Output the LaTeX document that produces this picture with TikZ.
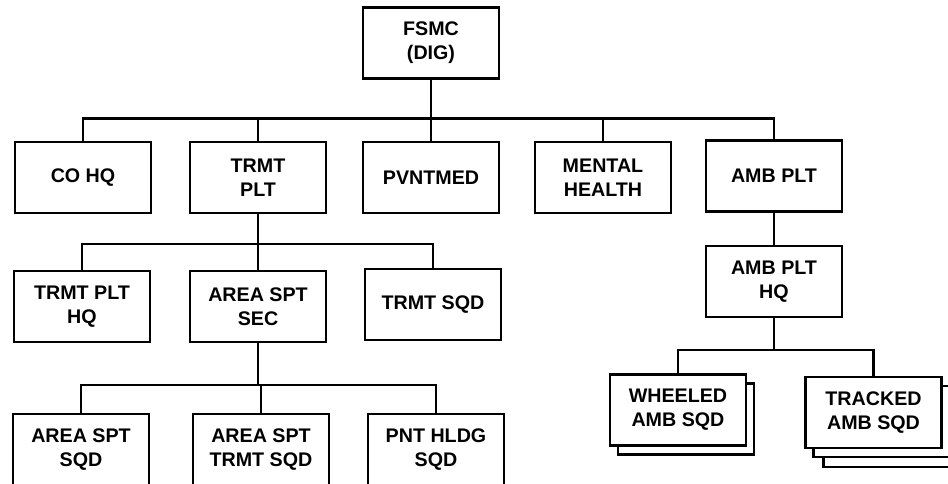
\documentclass[tikz,border=0pt]{standalone}
\usepackage{fontspec}
\setmainfont{Liberation Sans}
\usepackage{tikz}
\usetikzlibrary{positioning}

\begin{document}
\begin{tikzpicture}[
  x=0.02cm,y=-0.02cm,
  unit/.style={draw,line width=1.3pt,fill=white,minimum width=2.72cm,minimum height=1.42cm,inner sep=0pt,align=center,font=\bfseries\fontsize{11.2}{13.5}\selectfont},
  card/.style={unit,font=\small},
  link/.style={line width=1.3pt}
]
  \clip (0,0) rectangle (948,484);
  % ---------------- TOP ----------------
  \node[unit] (fsmc) at (431,43) {FSMC\\(DIG)};
  % ---------------- LEVEL 2 ----------------
  \node[unit] (cohq) at (83,177.5) {CO HQ};
  \node[unit] (trmtplt) at (258,177.5) {TRMT\\PLT};
  \node[unit] (pvntmed) at (431,177.5) {PVNTMED};
  \node[unit] (mental) at (603,177.5) {MENTAL\\HEALTH};
  \node[unit] (ambplt) at (774,176) {AMB PLT};
  \foreach \n in {cohq,trmtplt,pvntmed,mental,ambplt}{
    \draw[link] (fsmc.south) -- ++(0,39) -| (\n.north);}
  % ---------------- TRMT PLT ----------------
  \node[unit] (trmthq) at (82,306.5) {TRMT PLT\\HQ};
  \node[unit] (areasec) at (258,306.5) {AREA SPT\\SEC};
  \node[unit] (trmtsqd) at (433,304.5) {TRMT SQD};
  \foreach \n in {trmthq,areasec,trmtsqd}{
    \draw[link] (trmtplt.south) -- ++(0,30) -| (\n.north);}
  % ---------------- AREA SPT SEC ----------------
  \node[unit] (areasqd) at (81,449.5) {AREA SPT\\SQD};
  \node[unit] (areatrmt) at (261,449.5) {AREA SPT\\TRMT SQD};
  \node[unit] (pnthldg) at (436,449.5) {PNT HLDG\\SQD};
  \foreach \n in {areasqd,areatrmt,pnthldg}{
    \draw[link] (areasec.south) -- ++(0,42) -| (\n.north);}
  % ---------------- AMB PLT ----------------
  \node[unit] (ambhq) at (774,281.5) {AMB PLT\\HQ};
  \draw[link] (ambplt.south) -- (ambhq.north);
  \node[card] (wheeled2) at (686,419) {};
  \node[unit] (wheeled) at (678,410) {WHEELED\\AMB SQD};
  \node[card] (tracked3) at (891.5,431.5) {};
  \node[card] (tracked2) at (881.5,421.5) {};
  \node[unit] (tracked) at (873.5,412.5) {TRACKED\\AMB SQD};
  \foreach \n in {wheeled,tracked}{
    \draw[link] (ambhq.south) -- ++(0,32) -| (\n.north);}
\end{tikzpicture}
\end{document}
